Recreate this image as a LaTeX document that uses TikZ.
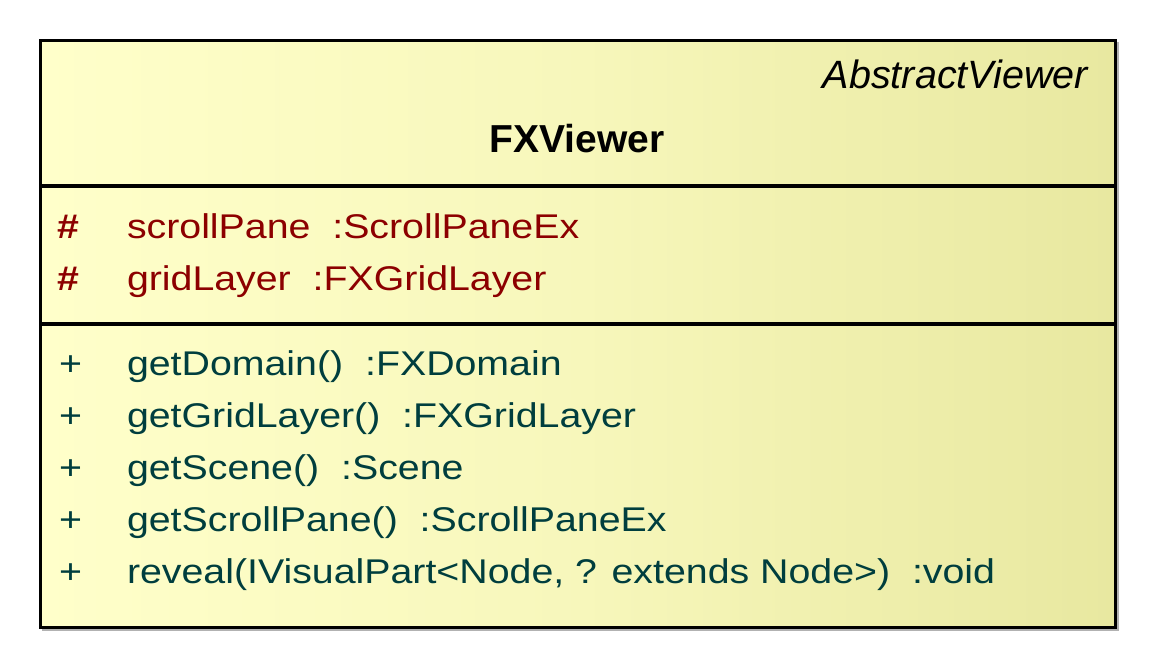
\documentclass[tikz,border=0pt]{standalone}
\usepackage{fontspec}
\setmainfont{Liberation Sans}
\usepackage{graphicx}
\definecolor{attrcol}{RGB}{140,0,0}
\definecolor{methcol}{RGB}{0,62,62}
\definecolor{gleft}{RGB}{255,255,202}
\definecolor{gright}{RGB}{232,232,160}
\newcommand\memberfont{\fontsize{34.3}{40}\selectfont}
\newcommand\mtext[1]{\scalebox{1.146}[1]{#1}}
\newcommand\gap{\hspace{0.556em}}
\begin{document}
\begin{tikzpicture}[x=1pt,y=-1pt,
  member/.style={anchor=base west, inner sep=0pt, outer sep=0pt, font=\memberfont},
  attrtext/.style={member, text=attrcol},
  methtext/.style={member, text=methcol},
  divider/.style={line width=3.5pt, black},
  boxline/.style={line width=3pt, black}]
\useasboundingbox (0,0) rectangle (1160,672);
% shadow
\fill[gray!60] (42,42) rectangle (1118.7,630.7);
% body with gradient
\shade[left color=gleft, right color=gright, middle color=gleft!65!gright] (40.5,40.5) rectangle (1115.7,627.5);
\draw[boxline] (40.5,40.5) rectangle (1115.7,627.5);
\coordinate (d1l) at (40.5,186);
\coordinate (d1r) at (1115.7,186);
\coordinate (d2l) at (40.5,324);
\coordinate (d2r) at (1115.7,324);
\draw[divider] (d1l) -- (d1r);
\draw[divider] (d2l) -- (d2r);
% header
\node[anchor=base east, inner sep=0pt] (stereo) at (1088,88)
  {\fontsize{39.5}{44}\selectfont\itshape AbstractViewer};
\node[anchor=base, inner sep=0pt] (title) at (577,152)
  {\fontsize{39}{44}\selectfont\bfseries FXViewer};
% attributes
\node[attrtext] (a1v) at (57,238) {\mtext{\bfseries\#}};
\node[attrtext] (a1) at (127,238) {\mtext{scrollPane\gap:ScrollPaneEx}};
\node[attrtext] (a2v) at (57,290) {\mtext{\bfseries\#}};
\node[attrtext] (a2) at (127,290) {\mtext{gridLayer\gap:FXGridLayer}};
% methods
\node[methtext] (m1v) at (59,375) {\mtext{+}};
\node[methtext] (m1) at (127,375) {\mtext{getDomain()\gap:FXDomain}};
\node[methtext] (m2v) at (59,427) {\mtext{+}};
\node[methtext] (m2) at (127,427) {\mtext{getGridLayer()\gap:FXGridLayer}};
\node[methtext] (m3v) at (59,479) {\mtext{+}};
\node[methtext] (m3) at (127,479) {\mtext{getScene()\gap:Scene}};
\node[methtext] (m4v) at (59,531) {\mtext{+}};
\node[methtext] (m4) at (127,531) {\mtext{getScrollPane()\gap:ScrollPaneEx}};
\node[methtext] (m5v) at (59,583) {\mtext{+}};
\node[methtext] (m5) at (127,583) {\mtext{reveal(IVisualPart<Node, ? extends Node>)\gap:void}};
\end{tikzpicture}
\end{document}
